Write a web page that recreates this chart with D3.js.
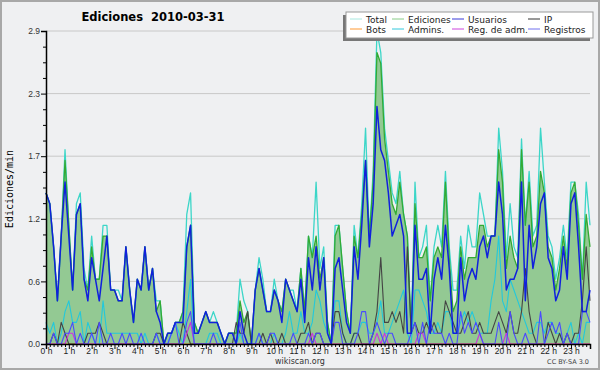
<!DOCTYPE html>
<html>
<head>
<meta charset="utf-8">
<script src="https://cdn.jsdelivr.net/npm/d3@7"></script>
<style>
  body { margin: 0; background: #fff; }
  svg { display: block; font-family: "DejaVu Sans", sans-serif; }
</style>
</head>
<body>
<div id="chart"></div>
<script>
// Ediciones 2010-03-31 - ediciones por tramo de 10 minutos (144 tramos)

// --- Datos (ediciones por cada 10 min) ---
const total = [
  14,13,9,4,10,18,11,5,13,14,7,5,10,6,6,11,11,5,5,5,4,9,5,2,
  6,5,9,5,7,4,4,0,1,1,2,2,3,12,14,2,1,2,3,2,3,2,1,0,
  1,1,1,6,4,3,0,5,8,6,3,3,6,4,3,6,5,5,3,7,3,10,8,15,
  7,9,2,0,11,11,7,3,1,11,8,13,20,10,16,29,27,20,17,14,13,16,12,10,
  1,15,8,9,11,4,9,11,9,16,9,5,5,10,7,11,9,9,14,12,10,10,10,20,
  16,8,13,9,8,19,11,16,10,11,20,15,10,9,6,8,11,8,15,15,12,6,15,11
];
const ediciones = [
  14,13,9,4,10,17,11,5,12,13,6,5,9,6,6,10,10,5,5,4,4,9,5,2,
  6,5,9,5,7,3,4,0,1,1,2,2,3,9,11,2,1,2,3,2,2,2,1,0,
  1,1,1,4,2,3,0,5,7,5,3,3,5,4,3,6,5,4,3,7,3,10,8,10,
  6,8,2,0,10,11,7,3,1,10,8,12,17,10,15,27,26,19,16,13,12,15,12,10,
  1,13,8,8,9,4,8,9,8,15,8,3,4,9,6,8,8,8,11,11,9,10,10,18,
  15,7,10,8,7,18,11,15,9,10,16,14,9,8,5,7,10,7,14,15,11,6,12,9
];
const usuarios = [
  14,13,9,4,10,15,10,5,12,13,6,4,8,6,4,7,10,5,5,4,4,9,5,2,
  6,5,9,5,7,3,2,0,1,1,2,2,2,9,11,1,1,2,3,2,2,2,1,0,
  1,1,0,3,1,0,0,5,7,5,3,3,5,4,2,6,5,4,3,6,2,8,5,9,
  5,8,1,0,7,8,5,2,1,9,6,11,17,9,13,22,18,17,14,10,11,12,10,1,
  1,11,6,6,7,1,6,8,6,11,7,1,1,8,4,6,7,6,9,10,8,10,10,15,
  12,5,6,6,7,15,4,11,7,9,13,14,8,7,4,5,9,6,13,14,9,3,3,5
];
const ip = [
  0,0,1,0,2,1,0,0,0,0,0,1,1,1,2,1,0,0,0,0,0,0,0,0,
  0,0,0,0,0,1,1,0,0,0,0,0,2,1,0,0,0,0,0,0,0,0,0,0,
  0,0,2,1,1,3,0,0,0,1,0,1,0,0,1,0,0,0,0,1,1,2,0,1,
  1,0,0,0,3,3,1,0,0,1,1,0,0,0,1,3,8,2,2,3,2,3,1,9,
  1,2,1,1,2,1,2,1,1,4,3,2,1,1,2,3,1,1,2,1,1,1,2,3,
  2,1,3,1,1,3,7,3,1,0,0,0,2,1,0,1,0,1,0,1,1,4,9,4
];
const bots = [
  0,0,0,0,0,0,0,0,0,0,0,0,0,0,0,0,0,0,0,0,0,0,0,0,
  0,0,0,0,0,0,0,0,0,0,0,0,0,0,0,0,0,0,0,0,0,0,0,0,
  0,0,0,0,0,0,0,0,0,0,0,0,0,0,0,0,0,0,0,0,0,0,0,0,
  0,0,0,0,0,0,0,0,0,0,0,0,0,0,0,0,0,0,0,0,0,0,0,0,
  0,0,0,0,0,0,0,0,0,0,0,0,0,0,0,0,0,0,0,0,0,0,0,0,
  0,0,0,0,0,0,0,0,0,0,0,0,0,0,0,0,0,0,0,0,0,0,0,0
];
const admins = [
  2,1,2,0,1,3,4,2,2,3,0,2,1,0,0,4,1,1,1,1,1,1,1,1,
  1,0,1,0,0,1,0,0,0,1,2,1,0,3,6,0,0,0,0,1,1,1,0,0,
  0,0,0,1,0,0,0,0,1,0,0,0,1,0,0,1,3,1,1,3,1,1,2,5,
  4,2,1,0,4,4,1,0,0,1,1,2,2,1,1,2,4,1,1,2,3,4,5,1,
  0,5,5,4,3,1,1,2,1,3,3,1,1,2,3,2,3,2,1,1,1,4,6,10,
  4,3,6,5,4,3,2,1,1,2,2,1,2,2,1,1,0,1,2,0,1,0,2,2
];
const regAdm = [
  0,0,0,0,0,0,1,1,0,0,0,0,0,0,0,0,0,0,0,0,0,0,0,0,
  0,0,0,0,0,0,0,0,0,0,0,0,0,1,2,0,0,0,0,0,0,0,0,0,
  0,0,0,0,0,0,0,0,0,0,0,0,0,0,0,0,0,0,0,0,0,0,1,0,
  0,0,0,0,0,0,0,0,0,0,0,0,0,0,0,1,0,1,0,0,0,0,0,0,
  0,0,1,1,0,0,0,0,0,0,0,0,0,0,0,0,0,0,1,0,0,0,0,0,
  0,1,0,0,0,0,0,0,0,0,0,0,0,0,0,0,0,0,0,0,0,0,0,0
];
const registros = [
  0,0,1,0,0,1,1,2,0,1,0,0,1,0,2,0,0,1,0,0,1,0,1,0,
  0,1,0,0,0,1,0,0,0,1,2,0,0,2,3,0,0,0,0,0,1,0,0,0,
  0,0,0,2,0,0,0,0,1,0,0,1,1,0,0,0,0,1,0,0,0,1,0,1,
  1,0,0,0,2,2,0,0,0,0,1,3,3,0,1,2,1,0,1,1,0,0,0,0,
  1,2,0,2,0,2,1,1,1,0,1,0,0,3,1,2,1,2,1,0,0,0,0,2,
  0,0,3,1,0,0,1,0,0,0,3,0,1,2,1,2,0,1,0,0,0,3,3,2
];

// marcas del eje Y y etiquetas
const yTicks = [0, 0.58, 1.16, 1.74, 2.32, 2.9];
const yTickLabels = ["0.0", "0.6", "1.2", "1.7", "2.3", "2.9"];
const hours = [0,1,2,3,4,5,6,7,8,9,10,11,12,13,14,15,16,17,18,19,20,21,22,23];

// leyenda
const legendItems = [
  { name: "Total",        color: "#a8e8e0" },
  { name: "Ediciones",    color: "#88cc88" },
  { name: "Usuarios",     color: "#3838d8" },
  { name: "IP",           color: "#333333" },
  { name: "Bots",         color: "#ff9933" },
  { name: "Admins.",      color: "#33c8dc" },
  { name: "Reg. de adm.", color: "#cc44dd" },
  { name: "Registros",    color: "#7070ee" }
];

// --- Tamaño ---
const W = 600, H = 370;
const plotL = 46, plotR = 590, plotT = 31, plotB = 344;

const svg = d3.select("#chart")
  .append("svg")
    .attr("width", W)
    .attr("height", H);

// fondo + borde
svg.append("rect")
   .attr("x", 1).attr("y", 1)
   .attr("width", W - 2).attr("height", H - 2)
   .attr("fill", "#eff0f2")
   .attr("stroke", "#a8a8a8")
   .attr("stroke-width", 2);

// --- Escalas ---
const x = d3.scaleLinear().domain([0, 143]).range([plotL, plotR]);
const y = d3.scaleLinear().domain([0, 2.9]).range([plotB, plotT]);

const perMin = arr => arr.map((v, i) => ({ i, v: v / 10 }));

// --- Rejilla ---
svg.append("g")
  .selectAll("line")
  .data(yTicks)
  .enter()
  .append("line")
    .attr("x1", plotL).attr("x2", plotR)
    .attr("y1", d => y(d)).attr("y2", d => y(d))
    .attr("stroke", "#c8c8c8")
    .attr("stroke-width", 1);

// --- Area de ediciones ---
const area = d3.area()
  .x(d => x(d.i))
  .y0(y(0))
  .y1(d => y(d.v));

svg.append("path")
   .datum(perMin(ediciones))
   .attr("fill", "#93c993")
   .attr("d", area);

// --- Lineas ---
const line = d3.line()
  .x(d => x(d.i))
  .y(d => y(d.v));

const series = [
  { data: bots,      color: "#ff9933", w: 1 },
  { data: total,     color: "#3cd6c8", w: 1.3 },
  { data: ediciones, color: "#33aa33", w: 1.3 },
  { data: admins,    color: "#22c8dc", w: 1.1 },
  { data: ip,        color: "#444444", w: 1.1 },
  { data: regAdm,    color: "#cc33dd", w: 1.1 },
  { data: registros, color: "#4a4aff", w: 1.1 },
  { data: usuarios,  color: "#1020dd", w: 1.5 }
];

series.forEach(s => {
  svg.append("path")
     .datum(perMin(s.data))
     .attr("fill", "none")
     .attr("stroke", s.color)
     .attr("stroke-width", s.w)
     .attr("stroke-linejoin", "round")
     .attr("d", line);
});

// --- Ejes ---
const yAxis = svg.append("g")
  .attr("transform", `translate(${plotL},0)`)
  .call(d3.axisLeft(y)
          .tickValues(yTicks)
          .tickSize(5)
          .tickFormat((d, i) => yTickLabels[i]));

// marcas menores eje Y
svg.append("g")
  .attr("transform", `translate(${plotL},0)`)
  .call(d3.axisLeft(y)
          .tickValues(d3.range(0, 20).filter(k => k % 4 !== 0).map(k => k * 0.145))
          .tickSize(3)
          .tickFormat(""))
  .call(g => g.select(".domain").remove());

const xAxis = svg.append("g")
  .attr("transform", `translate(0,${plotB})`)
  .call(d3.axisBottom(x)
          .tickValues(hours.map(h => h * 6))
          .tickSize(5)
          .tickFormat(d => (d / 6) + " h"));

// marcas de 10 min
svg.append("g")
  .attr("transform", `translate(0,${plotB})`)
  .call(d3.axisBottom(x)
          .tickValues(d3.range(0, 144).filter(d => d % 6 !== 0))
          .tickSize(3)
          .tickFormat(""))
  .call(g => g.select(".domain").remove());

svg.selectAll(".domain").attr("stroke", "#000").attr("stroke-width", 1.5);
svg.selectAll(".tick line").attr("stroke", "#000");
yAxis.selectAll("text").style("font-size", "8.5px").attr("fill", "#333").attr("x", -6);
xAxis.selectAll("text").style("font-size", "8.5px").attr("fill", "#222").attr("y", 4);

// --- Titulo ---
svg.append("text")
   .attr("x", 153)
   .attr("y", 21)
   .attr("text-anchor", "middle")
   .style("font-size", "11.5px")
   .style("font-weight", "bold")
   .style("white-space", "pre")
   .text("Ediciones  2010-03-31");

// Nombre eje Y
svg.append("text")
   .attr("transform", "rotate(-90)")
   .attr("x", -189)
   .attr("y", 13)
   .attr("text-anchor", "middle")
   .style("font-family", "DejaVu Sans Mono")
   .style("font-size", "10px")
   .text("Ediciones/min");

// pie
svg.append("text")
   .attr("x", 300)
   .attr("y", 364)
   .attr("text-anchor", "middle")
   .style("font-size", "8px")
   .attr("fill", "#333")
   .text("wikiscan.org");

svg.append("text")
   .attr("x", 589)
   .attr("y", 364)
   .attr("text-anchor", "end")
   .style("font-size", "6.5px")
   .attr("fill", "#444")
   .text("CC BY-SA 3.0");

// --- Leyenda ---
const lg = svg.append("g");
lg.append("rect")
  .attr("x", 343).attr("y", 15)
  .attr("width", 247).attr("height", 26)
  .attr("fill", "#777");
lg.append("rect")
  .attr("x", 346).attr("y", 12)
  .attr("width", 247).attr("height", 26)
  .attr("fill", "#fff")
  .attr("stroke", "#999")
  .attr("stroke-width", 1);

const colX = [350, 392, 452, 528];
const rowY = [19, 29];
legendItems.forEach((d, k) => {
  const cx = colX[k % 4], cy = rowY[Math.floor(k / 4)];
  lg.append("line")
    .attr("x1", cx).attr("x2", cx + 12)
    .attr("y1", cy).attr("y2", cy)
    .attr("stroke", d.color)
    .attr("stroke-width", 1);
  lg.append("text")
    .attr("x", cx + 16)
    .attr("y", cy + 3.5)
    .style("font-size", "9px")
    .attr("fill", "#222")
    .text(d.name);
});
</script>
</body>
</html>
